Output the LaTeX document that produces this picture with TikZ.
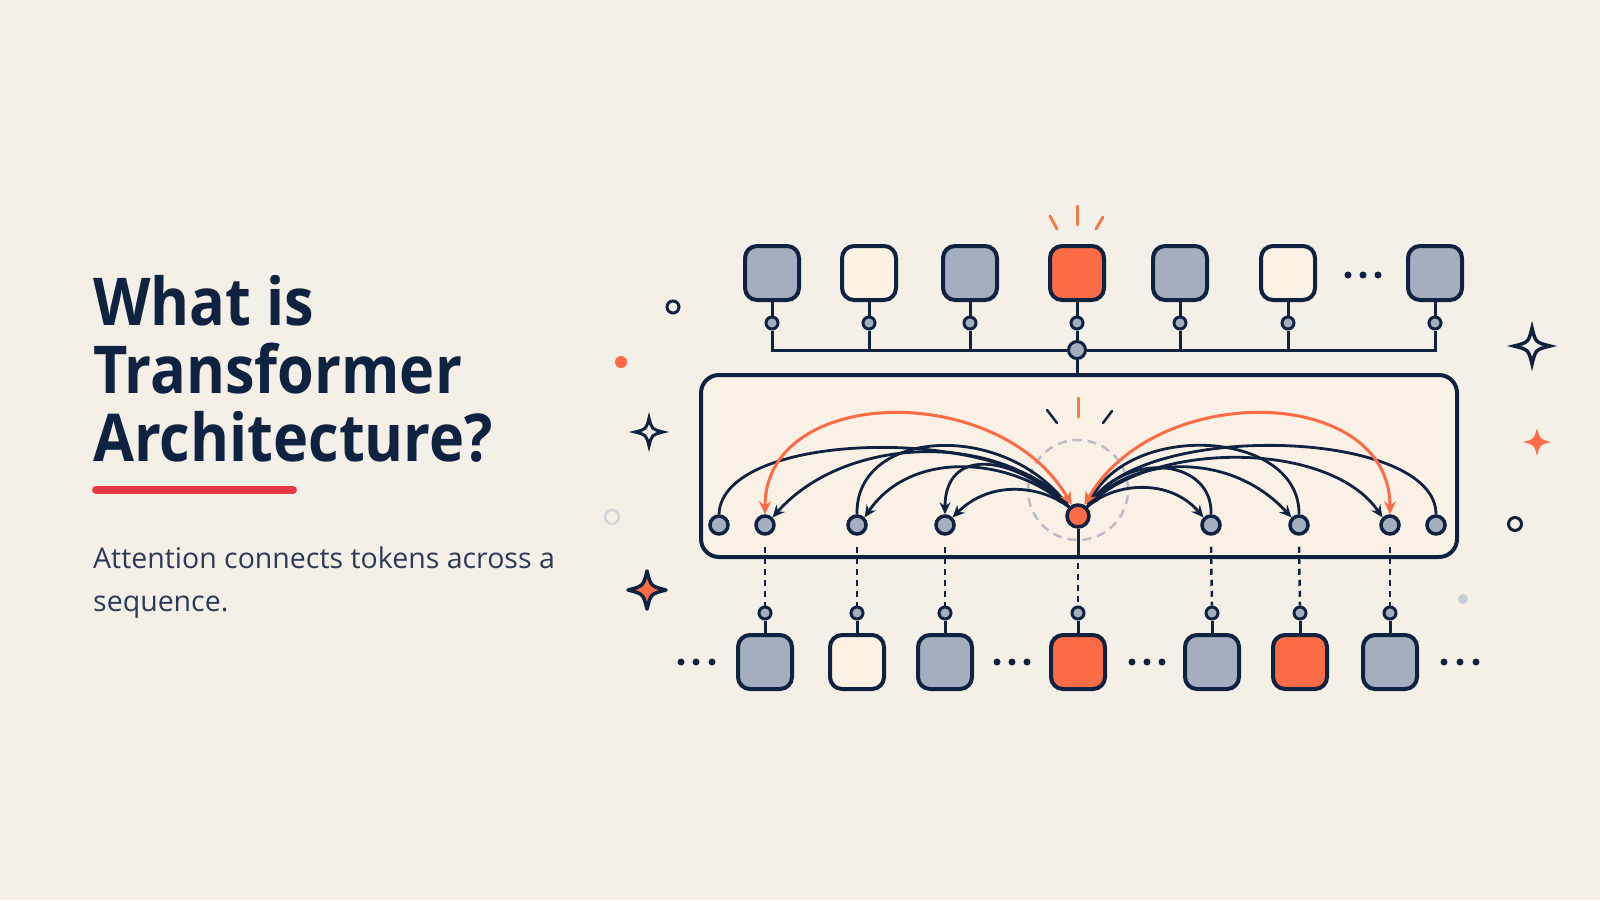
\documentclass[tikz,border=0pt]{standalone}
\usepackage{fontspec}
\setmainfont{Open Sans}
\newfontfamily\titlefont{Open Sans}[FakeStretch=0.9]
\usetikzlibrary{arrows.meta}
\definecolor{bg}{HTML}{F4F0E8}
\definecolor{navy}{HTML}{0F2240}
\definecolor{tgray}{HTML}{A3AEBF}
\definecolor{cream}{HTML}{FBF2E4}
\definecolor{orng}{HTML}{FB6B45}
\definecolor{ray}{HTML}{EE7C4E}
\definecolor{panelfill}{HTML}{FAF1E6}
\definecolor{titlered}{HTML}{E63946}
\definecolor{subcol}{HTML}{2C3A55}
\definecolor{dashcol}{HTML}{B9BDC6}
\definecolor{lightring}{HTML}{D3D7DA}
\definecolor{softdot}{HTML}{C8CDD6}
\begin{document}
\begin{tikzpicture}[x=1pt,y=-1pt,
  tok/.style={draw=navy, line width=4pt, rounded corners=12pt, minimum size=54pt, inner sep=0pt},
  gtok/.style={tok, fill=tgray},
  ctok/.style={tok, fill=cream},
  otok/.style={tok, fill=orng},
  pin/.style={circle, draw=navy, line width=3pt, fill=tgray, minimum size=12pt, inner sep=0pt},
  hubnode/.style={pin, minimum size=17pt},
  pnode/.style={circle, draw=navy, line width=3.5pt, fill=tgray, minimum size=18pt, inner sep=0pt},
  onode/.style={pnode, fill=orng, minimum size=22pt},
  wire/.style={draw=navy, line width=3pt},
  att/.style={draw=navy, line width=2.8pt, -{Stealth[length=12pt,width=11pt]}},
  oatt/.style={draw=orng, line width=3pt, {Stealth[length=13pt,width=12pt]}-{Stealth[length=13pt,width=12pt]}},
  dwire/.style={draw=navy, line width=2.5pt, dash pattern=on 6pt off 5pt},
  dotn/.style={circle, fill=navy, minimum size=7pt, inner sep=0pt},
  rayline/.style={line width=3pt, line cap=round},
  ring/.style={draw=navy, line width=3pt},
  pics/sparkle/.style={code={\path[pic actions] (0,-#1) .. controls (0.2*#1,-0.2*#1) .. (#1,0) .. controls (0.2*#1,0.2*#1) .. (0,#1) .. controls (-0.2*#1,0.2*#1) .. (-#1,0) .. controls (-0.2*#1,-0.2*#1) .. cycle;}}
]
\fill[bg] (0,0) rectangle (1600,900);

% ---------- text ----------
\node[anchor=base west, inner sep=0pt, text=navy, font=\titlefont\bfseries\fontsize{66}{80}\selectfont] (title1) at (93,325) {What is};
\node[anchor=base west, inner sep=0pt, text=navy, font=\titlefont\bfseries\fontsize{66}{80}\selectfont] (title2) at (93,393) {Transformer};
\node[anchor=base west, inner sep=0pt, text=navy, font=\titlefont\bfseries\fontsize{66}{80}\selectfont] (title3) at (93,461) {Architecture?};
\draw[titlered, line width=8pt, line cap=round] (96,490) -- (293,490);
\node[anchor=base west, inner sep=0pt, text=subcol, font=\fontsize{28.5}{34}\selectfont] (sub1) at (93,568) {Attention connects tokens across a};
\node[anchor=base west, inner sep=0pt, text=subcol, font=\fontsize{28.5}{34}\selectfont] (sub2) at (93,611) {sequence.};

% ---------- decorations ----------
\draw[ring] (673,307) circle (6);
\fill[orng] (621,362) circle (6);
\pic[draw=navy, line width=3pt, fill=bg] at (649,432) {sparkle=14};
\draw[lightring, line width=2.5pt] (612,517) circle (7);
\pic[draw=navy, line width=3.5pt, fill=orng, line join=round] at (647,590) {sparkle=19};
\pic[draw=navy, line width=3.5pt, fill=bg] at (1532,346) {sparkle=18};
\pic[fill=orng] at (1537,442) {sparkle=14};
\draw[ring] (1515,524) circle (6.5);
\fill[softdot] (1463,599) circle (5);

% ---------- top tokens ----------
\node[gtok] (t1) at (772,273) {};
\node[ctok] (t2) at (869,273) {};
\node[gtok] (t3) at (970,273) {};
\node[otok] (t4) at (1077,273) {};
\node[gtok] (t5) at (1180,273) {};
\node[ctok] (t6) at (1288,273) {};
\node[gtok] (t7) at (1435,273) {};
\node[dotn] (td1) at (1348,275) {};
\node[dotn] (td2) at (1363,275) {};
\node[dotn] (td3) at (1378,275) {};
\draw[ray, rayline] (1050,216) -- (1057,229);
\draw[ray, rayline] (1077,206) -- (1077,225);
\draw[ray, rayline] (1103,217) -- (1096,229);

\foreach \i/\x in {1/772,2/869,3/970,4/1077,5/1180,6/1288,7/1435}
  \node[pin] (tp\i) at (\x,323) {};
\node[hubnode] (hub) at (1077,350) {};
\foreach \i in {1,...,7} \draw[wire] (t\i) -- (tp\i);
\draw[wire] (tp1) |- (hub.west);
\draw[wire] (tp7) |- (hub.east);
\foreach \i in {2,3,5,6} \draw[wire] (tp\i.south) -- (tp\i |- hub);
\draw[wire] (tp4) -- (hub);

% ---------- panel ----------
\node[draw=navy, line width=4pt, fill=panelfill, rounded corners=18pt, minimum width=756pt, minimum height=182pt, inner sep=0pt] (panel) at (1079,466) {};
\draw[wire] (hub.south) -- (hub |- panel.north);
\node[circle, draw=dashcol, dash pattern=on 9pt off 6pt, line width=2.5pt, minimum size=100pt, inner sep=0pt] (halo) at (1078,490) {};
\draw[navy, rayline, line width=2.5pt] (1047,410) -- (1057,423);
\draw[ray, rayline] (1078,398) -- (1078,417);
\draw[navy, rayline, line width=2.5pt] (1112,411) -- (1103,423);

\node[pnode] (p1) at (719,525) {};
\node[pnode] (p2) at (765,525) {};
\node[pnode] (p3) at (857,525) {};
\node[pnode] (p4) at (945,525) {};
\node[onode] (o) at (1078,516) {};
\node[pnode] (p5) at (1211,525) {};
\node[pnode] (p6) at (1299,525) {};
\node[pnode] (p7) at (1390,525) {};
\node[pnode] (p8) at (1436,525) {};

% attention arcs, left
\draw[att] (p1.north) .. controls (722,430) and (1000,425) .. (o.north west);
\draw[att] (o.north west) .. controls (1000,430) and (845,435) .. (p2.north east);
\draw[att] (p3.north) .. controls (855,430) and (1000,420) .. (o.north west);
\draw[att] (o.north west) .. controls (1010,455) and (910,450) .. (p3.north east);
\draw[att] (o.north west) .. controls (1010,452) and (945,448) .. (p4.north);
\draw[att] (o.north west) .. controls (1040,485) and (990,480) .. (p4.north east);
% attention arcs, right
\draw[att] (o.north east) .. controls (1115,482) and (1170,478) .. (p5.north west);
\draw[att] (p5.north) .. controls (1213,460) and (1130,450) .. (o.north east);
\draw[att] (o.north east) .. controls (1130,455) and (1230,450) .. (p6.north west);
\draw[att] (p6.north) .. controls (1300,430) and (1130,420) .. (o.north east);
\draw[att] (o.north east) .. controls (1150,440) and (1330,440) .. (p7.north west);
\draw[att] (p8.north) .. controls (1436,430) and (1150,420) .. (o.north east);
% orange arcs
\draw[oatt] (p2.north) .. controls (765,385) and (1000,380) .. (o.120);
\draw[oatt] (o.60) .. controls (1156,380) and (1390,385) .. (p7.north);

% ---------- bottom tokens ----------
\foreach \i/\x in {1/765,2/857,3/945,4/1078,5/1212,6/1300,7/1390}
  \node[pin] (bp\i) at (\x,613) {};
\node[gtok] (b1) at (765,662) {};
\node[ctok] (b2) at (857,662) {};
\node[gtok] (b3) at (945,662) {};
\node[otok] (b4) at (1078,662) {};
\node[gtok] (b5) at (1212,662) {};
\node[otok] (b6) at (1300,662) {};
\node[gtok] (b7) at (1390,662) {};
\foreach \i in {1,...,7} \draw[wire] (bp\i) -- (b\i);

\draw[dwire] ([yshift=-11pt]p2.south) -- (bp1.north);
\draw[dwire] ([yshift=-11pt]p3.south) -- (bp2.north);
\draw[dwire] ([yshift=-11pt]p4.south) -- (bp3.north);
\draw[wire] (o.south) -- (o |- panel.south);
\draw[dwire] ([yshift=-4pt]o |- panel.south) -- (bp4.north);
\draw[dwire] ([yshift=-11pt]p5.south) -- (bp5.north);
\draw[dwire] ([yshift=-11pt]p6.south) -- (bp6.north);
\draw[dwire] ([yshift=-11pt]p7.south) -- (bp7.north);

\foreach \n/\x in {a1/681,a2/696,a3/712,m1/997,m2/1012,m3/1027,n1/1132,n2/1147,n3/1162,r1/1444,r2/1460,r3/1476}
  \node[dotn] (\n) at (\x,662) {};
\end{tikzpicture}
\end{document}
